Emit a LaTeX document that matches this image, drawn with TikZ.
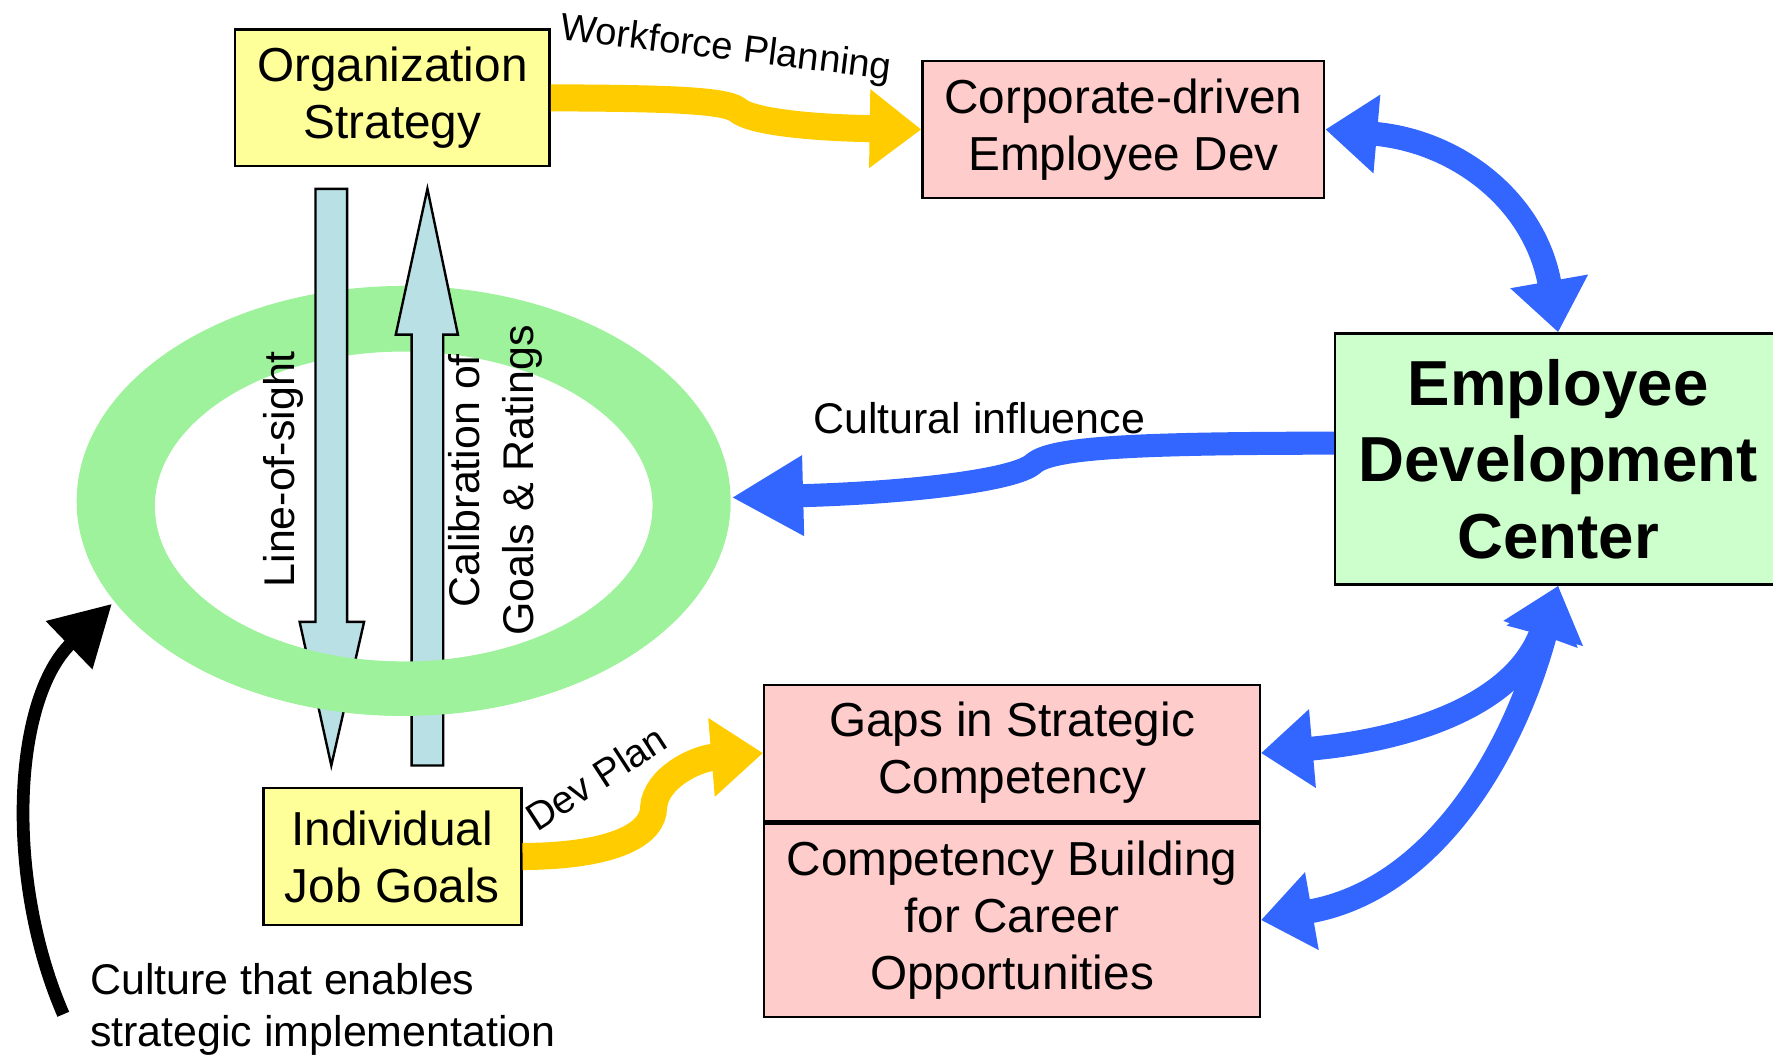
\documentclass[tikz,border=0pt]{standalone}
\usepackage{fontspec}
\setmainfont{Liberation Sans}
\usetikzlibrary{arrows.meta,positioning}
\definecolor{boxyellow}{RGB}{255,255,153}
\definecolor{boxpink}{RGB}{255,204,204}
\definecolor{boxgreen}{RGB}{204,255,204}
\definecolor{ringgreen}{RGB}{158,242,155}
\definecolor{shaftblue}{RGB}{185,224,228}
\definecolor{flowgold}{RGB}{255,204,0}
\definecolor{flowblue}{RGB}{51,102,255}
\begin{document}
\begin{tikzpicture}[x=0.01cm,y=-0.01cm,
  box/.style={rectangle,draw,line width=0.6pt,inner sep=0pt,align=center,font=\fontsize{12}{14.3}\selectfont},
  goldflow/.style={draw=flowgold,line width=6.8pt,-{Triangle[width=19pt,length=13pt]}},
  blueflow/.style={draw=flowblue,line width=5.8pt,-{Triangle[width=19pt,length=18pt]}},
  bluetwoway/.style={draw=flowblue,line width=6pt,{Triangle[width=19pt,length=13pt]}-{Triangle[width=19pt,length=13pt]}},
  tag/.style={inner sep=0pt,font=\fontsize{10.8}{13.4}\selectfont}]
  \useasboundingbox (0,0) rectangle (1568,937);
  % ring of culture
  \fill[ringgreen,even odd rule] (357,443) ellipse [x radius=2.89cm,y radius=1.90cm]
    (357,448) ellipse [x radius=2.20cm,y radius=1.37cm];
  % boxes
  \node (org) [box,fill=boxyellow,minimum width=2.78cm,minimum height=1.21cm] at (347,86.5) {Organization\\Strategy};
  \node (corp) [box,fill=boxpink,minimum width=3.55cm,minimum height=1.21cm] at (993.5,114.5) {Corporate-driven\\Employee Dev};
  \node (edc) [box,fill=boxgreen,minimum width=3.94cm,minimum height=2.22cm,font=\fontsize{16}{19.2}\bfseries] at (1378,406) {Employee\\Development\\Center};
  \node (gaps) [box,fill=boxpink,minimum width=4.38cm,minimum height=1.20cm] at (895,666) {Gaps in Strategic\\Competency};
  \node (build) [box,fill=boxpink,anchor=north,minimum width=4.38cm,minimum height=1.71cm] at (gaps.south) {Competency Building\\for Career\\Opportunities};
  \node (jobgoals) [box,fill=boxyellow,minimum width=2.28cm,minimum height=1.21cm] at (347,757.5) {Individual\\Job Goals};
  % block arrows
  \draw[line width=0.6pt,fill=shaftblue] (279,167) -- (307,167) -- (307,550) -- (322,550) -- (293,677) -- (265,550) -- (279,550) -- cycle;
  \draw[line width=0.6pt,fill=shaftblue] (364,677) -- (392,677) -- (392,296) -- (405,296) -- (378,167) -- (350,296) -- (364,296) -- cycle;
  \begin{scope}
    \clip (0,450) rectangle (700,700);
    \fill[ringgreen,even odd rule] (357,443) ellipse [x radius=2.89cm,y radius=1.90cm]
      (357,448) ellipse [x radius=2.20cm,y radius=1.37cm];
  \end{scope}
  \node (sight) [tag,rotate=90] at (251,415) {Line-of-sight};
  \node (calib) [tag,rotate=90,align=center] at (438,425) {Calibration of\\Goals \& Ratings};
  % flows
  \coordinate (ringE) at (647,440);
  \coordinate (ringSW) at (99,534);
  \coordinate (cultureTail) at (56,897);
  \draw[goldflow] (org.east) .. controls (580,87) and (640,88) .. (652,97) .. controls (664,108) and (720,113) .. (corp.west);
  \draw[goldflow] (jobgoals.east) .. controls (545,757) and (578,737) .. (578,714) .. controls (580,688) and (615,671) .. (gaps.west);
  \draw[blueflow] ([yshift=4pt]edc.west) .. controls (1000,392) and (930,396) .. (914,410) .. controls (898,425) and (800,436) .. (ringE);
  \draw[bluetwoway] (corp.east) to[out=-5,in=100,looseness=1.1] (edc.north);
  \draw[bluetwoway] (edc.south) to[out=250,in=5] (gaps.east);
  \draw[bluetwoway] (edc.south) to[out=255,in=10] (build.east);
  \draw[line width=3.2pt,-{Triangle[width=16pt,length=15pt]}] (cultureTail) .. controls (5,780) and (10,620) .. (ringSW);
  % labels
  \node (workforce) [tag,font=\fontsize{9.6}{11}\selectfont,rotate=-7] at (642,44) {Workforce Planning};
  \node (cultural) [tag] at (866,370) {Cultural influence};
  \node (devplan) [tag,font=\fontsize{9.8}{12}\selectfont,rotate=33] at (527,688) {Dev Plan};
  \node (culture) [tag,anchor=west,align=left,font=\fontsize{10.8}{13.1}\selectfont] at (79,893) {Culture that enables\\strategic implementation};
\end{tikzpicture}
\end{document}
